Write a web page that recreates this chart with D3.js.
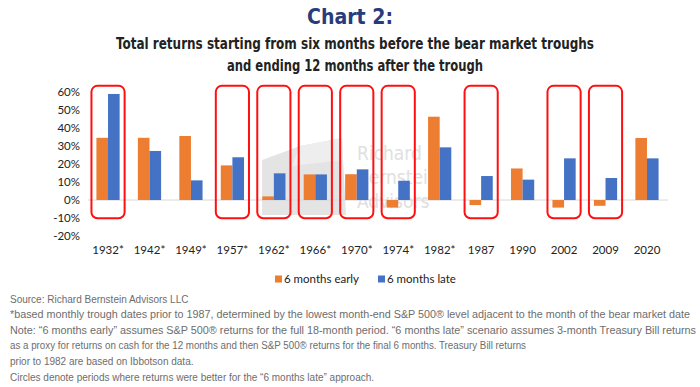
<!DOCTYPE html>
<html>
<head>
<meta charset="utf-8">
<script src="https://cdn.jsdelivr.net/npm/d3@7"></script>
<style>
  body { margin: 0; background: #fff; }
  svg { display: block; }
</style>
</head>
<body>
<div id="chart"></div>
<script>
// data (percent returns)
var categories = ["1932*", "1942*", "1949*", "1957*", "1962*", "1966*", "1970*", "1974*", "1982*", "1987", "1990", "2002", "2009", "2020"];
var earlyValues = [34.5, 34.5, 35.5, 19.2, 2.0, 14.2, 14.3, -4.2, 46.2, -2.8, 17.5, -4.2, -3.2, 34.4];
var lateValues = [58.8, 27.2, 10.9, 23.7, 14.8, 14.2, 17.0, 10.7, 29.2, 13.3, 11.3, 23.1, 12.2, 23.1];
// periods where "6 months late" did better (red boxes)
var circled = ["1932*", "1957*", "1962*", "1966*", "1970*", "1974*", "1987", "2002", "2009"];
var yTicks = [-20, -10, 0, 10, 20, 30, 40, 50, 60];
var seriesNames = ["6 months early", "6 months late"];

var width = 700, height = 387;
var orange = "#ed7d31", blue = "#4472c4";
var labelFont = "Lato, 'Open Sans', sans-serif";
var narrowFont = "'Liberation Sans Narrow', 'DejaVu Sans Condensed', sans-serif";

var svg = d3.select("#chart").append("svg")
  .attr("width", width)
  .attr("height", height);

// title
svg.append("text")
  .attr("x", 350).attr("y", 24)
  .attr("text-anchor", "middle")
  .attr("textLength", 86).attr("lengthAdjust", "spacingAndGlyphs")
  .style("font-family", narrowFont)
  .style("font-weight", "bold")
  .style("font-size", "21px")
  .style("fill", "#263c7c")
  .text("Chart 2:");

svg.append("text")
  .attr("x", 355).attr("y", 48.5)
  .attr("text-anchor", "middle")
  .style("font-family", narrowFont)
  .style("font-weight", "bold")
  .style("font-size", "15px")
  .style("fill", "#222")
  .attr("textLength", 478).attr("lengthAdjust", "spacingAndGlyphs")
  .text("Total returns starting from six months before the bear market troughs");

svg.append("text")
  .attr("x", 355).attr("y", 70.5)
  .attr("text-anchor", "middle")
  .style("font-family", narrowFont)
  .style("font-weight", "bold")
  .style("font-size", "15px")
  .style("fill", "#222")
  .attr("textLength", 256).attr("lengthAdjust", "spacingAndGlyphs")
  .text("and ending 12 months after the trough");

// scales
var x0 = d3.scaleBand()
  .domain(categories)
  .range([87.3, 667.7])
  .paddingInner(0.44)
  .paddingOuter(0.22);

var x1 = d3.scaleBand()
  .domain(seriesNames)
  .range([0, x0.bandwidth()]);

var y = d3.scaleLinear()
  .domain([-20, 60])
  .range([236.1, 91.8]);

// faint watermark
var wm = svg.append("g").attr("class", "watermark");
wm.append("path")
  .attr("d", "M262,160 L300,146 L342,138 L346,215 L262,215 Z")
  .style("fill", "#e4e4e4");
wm.append("path")
  .attr("d", "M300,146 L342,138 L343,160 L292,166 Z")
  .style("fill", "#eeeeee");
["Richard", "Bernstein", "Advisors"].forEach(function(w, i) {
  wm.append("text")
    .attr("x", 357).attr("y", 160 + i * 24)
    .style("font-family", narrowFont)
    .style("font-size", "19px")
    .style("fill", "#e0e0e0")
    .text(w);
});

// zero line
svg.append("line")
  .attr("x1", 88).attr("x2", 668)
  .attr("y1", y(0)).attr("y2", y(0))
  .style("stroke", "#d9d9d9")
  .style("stroke-width", 1);

// y axis labels
var yAxis = d3.axisLeft(y)
  .tickValues(yTicks)
  .tickSize(0)
  .tickPadding(0)
  .tickFormat(function(d) { return d + "%"; });

svg.append("g")
  .attr("class", "yAxis")
  .attr("transform", "translate(80,0)")
  .call(yAxis)
  .call(function(g) { g.select(".domain").remove(); })
  .selectAll("text")
  .style("font-family", labelFont)
  .style("font-size", "11.5px")
  .style("fill", "#222");

// x axis labels
var xAxis = d3.axisBottom(x0).tickSize(0).tickPadding(0);
svg.append("g")
  .attr("class", "xAxis")
  .attr("transform", "translate(0,246)")
  .call(xAxis)
  .call(function(g) { g.select(".domain").remove(); })
  .selectAll("text")
  .style("font-family", labelFont)
  .style("font-size", "11.5px")
  .style("fill", "#222");

// bars
var groups = svg.selectAll("g.group")
  .data(categories)
  .enter().append("g")
  .attr("class", "group")
  .attr("transform", function(d) { return "translate(" + x0(d) + ",0)"; });

groups.append("rect")
  .attr("x", x1(seriesNames[0]))
  .attr("width", x1.bandwidth())
  .attr("y", function(d, i) { return y(Math.max(0, earlyValues[i])); })
  .attr("height", function(d, i) { return Math.abs(y(earlyValues[i]) - y(0)); })
  .style("fill", orange);

groups.append("rect")
  .attr("x", x1(seriesNames[1]))
  .attr("width", x1.bandwidth())
  .attr("y", function(d, i) { return y(Math.max(0, lateValues[i])); })
  .attr("height", function(d, i) { return Math.abs(y(lateValues[i]) - y(0)); })
  .style("fill", blue);

// red boxes
var boxW = x0.step() * 0.8;
svg.selectAll("rect.box")
  .data(circled)
  .enter().append("rect")
  .attr("class", "box")
  .attr("x", function(d) { return x0(d) + x0.bandwidth() / 2 - boxW / 2; })
  .attr("width", boxW)
  .attr("y", y(63.3))
  .attr("height", y(-10.1) - y(63.3))
  .attr("rx", 6).attr("ry", 6)
  .style("fill", "none")
  .style("stroke", "#ff1010")
  .style("stroke-width", 2);

// legend
var legendX = [275, 378];
seriesNames.forEach(function(name, i) {
  svg.append("rect")
    .attr("x", legendX[i]).attr("y", 275.5)
    .attr("width", 7).attr("height", 7)
    .style("fill", i === 0 ? orange : blue);
  svg.append("text")
    .attr("x", legendX[i] + 9).attr("y", 283)
    .style("font-family", labelFont)
    .style("font-size", "11.5px")
    .style("fill", "#222")
    .text(name);
});

// footnotes (only the long lines get stretched to the reference width)
var notes = [
  ["Source: Richard Bernstein Advisors LLC", null],
  ["*based monthly trough dates prior to 1987, determined by the lowest month-end S&P 500\u00ae level adjacent to the month of the bear market date", 680],
  ["Note: \u201c6 months early\u201d assumes S&P 500\u00ae returns for the full 18-month period. \u201c6 months late\u201d scenario assumes 3-month Treasury Bill returns", 686],
  ["as a proxy for returns on cash for the 12 months and then S&P 500\u00ae returns for the final 6 months. Treasury Bill returns", 516],
  ["prior to 1982 are based on Ibbotson data.", null],
  ["Circles denote periods where returns were better for the \u201c6 months late\u201d approach.", null]
];
svg.selectAll("text.note")
  .data(notes)
  .enter().append("text")
  .attr("class", "note")
  .attr("x", 10)
  .attr("y", function(d, i) { return 302.5 + i * 15.6; })
  .attr("textLength", function(d) { return d[1]; })
  .attr("lengthAdjust", "spacingAndGlyphs")
  .style("font-family", "'Liberation Sans', Arial, sans-serif")
  .style("font-size", "10px")
  .style("fill", "#6d6d6d")
  .text(function(d) { return d[0]; });
</script>
</body>
</html>
